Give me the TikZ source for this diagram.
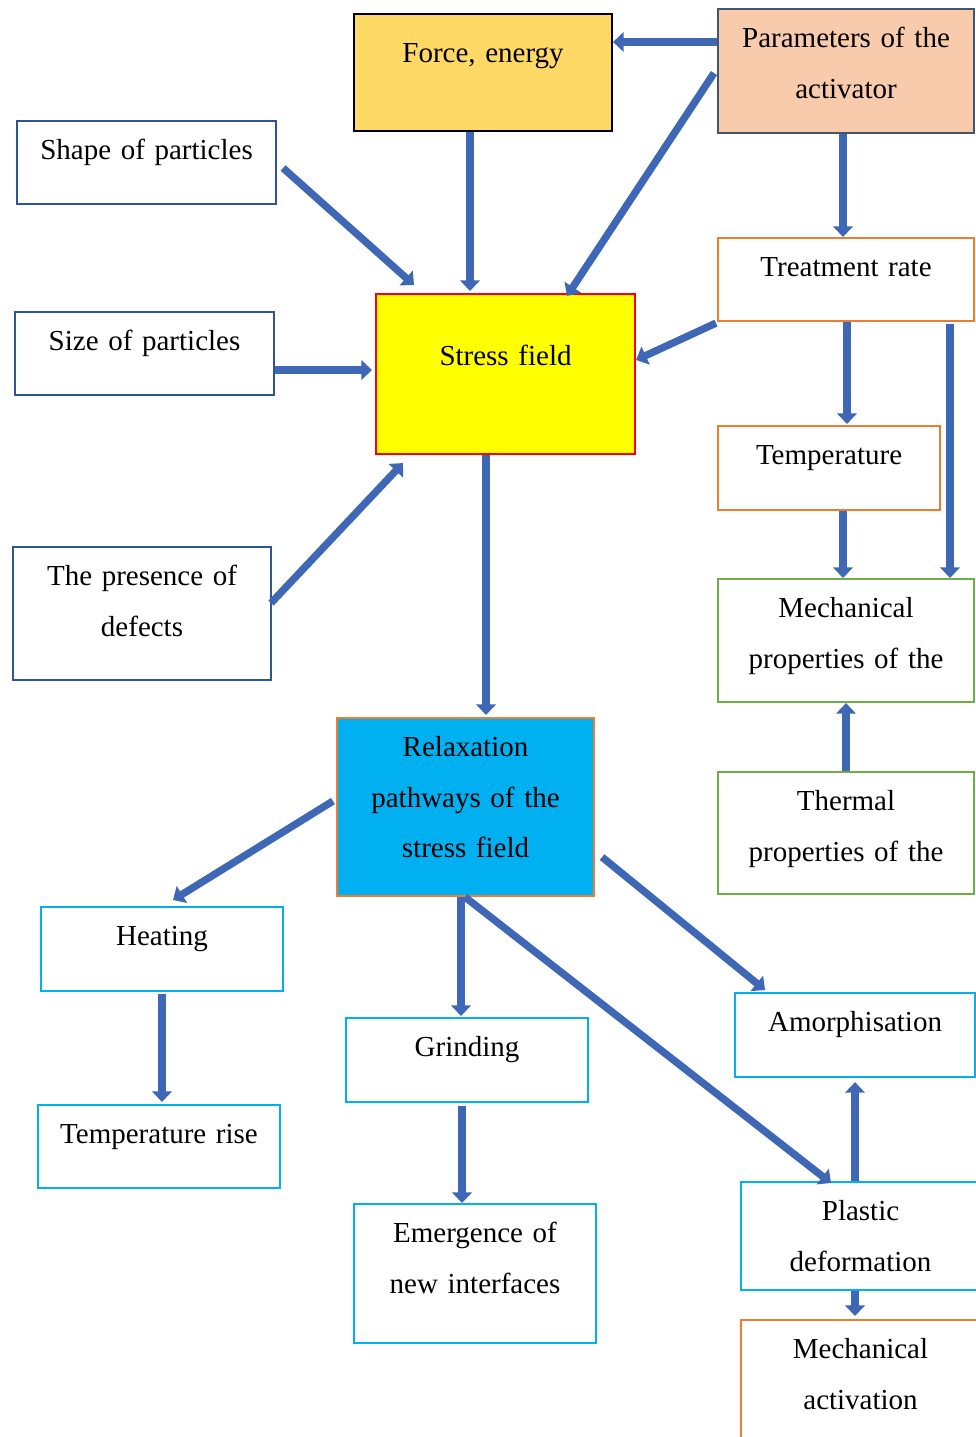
\documentclass[tikz,border=0pt]{standalone}
\usepackage{fontspec}
\setmainfont{Liberation Serif}
\definecolor{edgeblue}{RGB}{47, 85, 151}
\definecolor{arrowblue}{RGB}{62, 103, 182}
\definecolor{slategray}{RGB}{68, 84, 106}
\definecolor{peach}{RGB}{248, 203, 173}
\definecolor{gold1}{RGB}{255, 217, 102}
\definecolor{orange1}{RGB}{237, 125, 49}
\definecolor{green1}{RGB}{112, 173, 71}
\definecolor{cyan1}{RGB}{0, 176, 240}
\definecolor{yellow1}{RGB}{255, 255, 0}
\usetikzlibrary{arrows.meta, calc}

\begin{document}
\begin{tikzpicture}[
  x=0.02cm, y=-0.02cm,
  box/.style={draw=#1, line width=1.2pt, anchor=north west, inner sep=0pt},
  lbl/.style={font=\fontsize{16.5}{28.9}\selectfont, text width=4.6cm, align=center, inner sep=0pt, anchor=base},
  txt/.style={label={[lbl, yshift=-22.4pt]north:#1}},
  flow/.style={draw=arrowblue, line width=4.2pt, -{Triangle[width=11pt,length=6pt]}},
]
  \useasboundingbox (0,0) rectangle (975,1437);

  \node[box=black, fill=gold1, minimum width=5.16cm, minimum height=2.34cm,
    label={[lbl, yshift=-28.1pt]north:{Force, energy}}] (force) at (353,13) {};
  \node[box=slategray, fill=peach, minimum width=5.12cm, minimum height=2.48cm,
    txt={Parameters of the\\activator}] (params) at (717,8) {};
  \node[box=edgeblue, minimum width=5.18cm, minimum height=1.66cm,
    txt={Shape of particles}] (shape) at (16,120) {};
  \node[box=edgeblue, minimum width=5.18cm, minimum height=1.66cm,
    txt={Size of particles}] (size) at (14,311) {};
  \node[box=red, fill=yellow1, minimum width=5.18cm, minimum height=3.2cm,
    label={[lbl, yshift=-41.1pt]north:Stress field}] (stress) at (375,293) {};
  \node[box=orange1, minimum width=5.12cm, minimum height=1.66cm,
    txt={Treatment rate}] (treat) at (717,237) {};
  \node[box=orange1, minimum width=4.44cm, minimum height=1.68cm,
    txt={Temperature}] (temp) at (717,425) {};
  \node[box=green1, minimum width=5.12cm, minimum height=2.46cm,
    txt={Mechanical\\properties of the}] (mech) at (717,578) {};
  \node[box=green1, minimum width=5.12cm, minimum height=2.44cm,
    txt={Thermal\\properties of the}] (thermal) at (717,771) {};
  \node[box=edgeblue, minimum width=5.16cm, minimum height=2.66cm,
    txt={The presence of\\defects}] (defects) at (12,546) {};
  \node[box=orange1, fill=cyan1, minimum width=5.14cm, minimum height=3.56cm,
    txt={Relaxation\\pathways of the\\stress field}] (relax) at (336,717) {};
  \node[box=cyan1, minimum width=4.84cm, minimum height=1.68cm,
    txt={Heating}] (heating) at (40,906) {};
  \node[box=cyan1, minimum width=4.84cm, minimum height=1.66cm,
    txt={Temperature rise}] (temprise) at (37,1104) {};
  \node[box=cyan1, minimum width=4.84cm, minimum height=1.68cm,
    txt={Grinding}] (grind) at (345,1017) {};
  \node[box=cyan1, minimum width=4.84cm, minimum height=2.78cm,
    txt={Emergence of\\new interfaces}] (emerg) at (353,1203) {};
  \node[box=cyan1, minimum width=4.8cm, minimum height=1.68cm,
    txt={Amorphisation}] (amorph) at (734,992) {};
  \node[box=cyan1, minimum width=4.78cm, minimum height=2.16cm,
    txt={Plastic\\deformation}] (plastic) at (740,1181) {};
  \node[box=orange1, minimum width=4.78cm, minimum height=2.6cm,
    txt={Mechanical\\activation}] (mechact) at (740,1319) {};

  \draw[flow] ($(params.north west)+(0,34)$) -- ($(force.north east)+(0,29)$);
  \draw[flow] ($(params.west)+(-3,2)$) -- ($(stress.north west)+(192,3)$);
  \draw[flow] ($(force.south west)+(117,0)$) -- ($(stress.north west)+(95,-2)$);
  \draw[flow] ($(shape.north east)+(6,48)$) -- ($(stress.north west)+(39,-8)$);
  \draw[flow] ($(size.north east)+(0,59)$) -- ($(stress.north west)+(-3,77)$);
  \draw[flow] ($(defects.north east)+(-1,57)$) -- ($(stress.south west)+(28,8)$);
  \draw[flow] ($(treat.south west)+(-1,1)$) -- ($(stress.north east)+(0,67)$);
  \draw[flow] ($(params.south west)+(126,0)$) -- ($(treat.north west)+(126,0)$);
  \draw[flow] ($(treat.south west)+(130,0)$) -- ($(temp.north west)+(130,-1)$);
  \draw[flow] ($(treat.south west)+(233,2)$) -- ($(mech.north west)+(233,0)$);
  \draw[flow] ($(temp.south west)+(126,0)$) -- ($(mech.north west)+(126,0)$);
  \draw[flow] ($(thermal.north west)+(129,0)$) -- ($(mech.south west)+(129,0)$);
  \draw[flow] ($(stress.south west)+(111,0)$) -- ($(relax.north west)+(150,-2)$);
  \draw[flow] ($(relax.west)+(-3,-6)$) -- ($(heating.north west)+(133,-6)$);
  \draw[flow] ($(relax.south west)+(125,0)$) -- ($(grind.north west)+(116,-1)$);
  \draw[flow] ($(relax.south west)+(129,0)$) -- ($(plastic.north west)+(91,2)$);
  \draw[flow] ($(relax.south east)+(7,-40)$) -- ($(amorph.north west)+(31,-2)$);
  \draw[flow] ($(heating.south west)+(122,2)$) -- ($(temprise.north west)+(125,-2)$);
  \draw[flow] ($(grind.south west)+(117,3)$) -- ($(emerg.north west)+(109,0)$);
  \draw[flow] ($(plastic.north west)+(115,0)$) -- ($(amorph.south west)+(121,4)$);
  \draw[flow] ($(plastic.south west)+(115,0)$) -- ($(mechact.north west)+(115,-3)$);
\end{tikzpicture}
\end{document}
